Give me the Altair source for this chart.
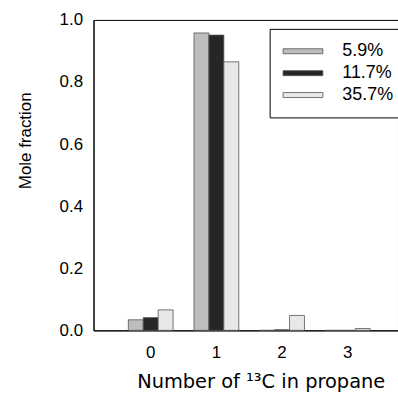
import altair as alt
import pandas as pd

categories = ["0", "1", "2", "3"]
series = ["5.9%", "11.7%", "35.7%"]
v_59 = [0.034, 0.958, 0.0, 0.0]
v_117 = [0.041, 0.951, 0.002, 0.0]
v_357 = [0.066, 0.865, 0.048, 0.006]
colors = ["#bdbdbd", "#262626", "#e8e8e8"]
y_ticks = [0.0, 0.2, 0.4, 0.6, 0.8, 1.0]

rows = []
for s, vals in zip(series, [v_59, v_117, v_357]):
    for c, v in zip(categories, vals):
        rows.append({"n": c, "series": s, "value": v})
df = pd.DataFrame(rows)

FONT = "Liberation Sans"
sym = "M-1,-0.28L3.444,-0.28L3.444,0.28L-1,0.28Z"

chart = alt.Chart(df).mark_bar(stroke="#555", strokeWidth=0.8).encode(
    x=alt.X("n:N", sort=categories, title="Number of ¹³C in propane",
            scale=alt.Scale(paddingInner=0, paddingOuter=0.318, align=0.583),
            axis=alt.Axis(labelAngle=0, ticks=False, labelFontSize=17, labelPadding=14,
                          titleFont="DejaVu Sans", titleFontSize=19.5,
                          titleX=168, titleY=57, titleBaseline="alphabetic",
                          titleAlign="center", domainColor="#000")),
    xOffset=alt.XOffset("series:N", sort=series,
                        scale=alt.Scale(paddingOuter=0.7, paddingInner=0)),
    y=alt.Y("value:Q", title="Mole fraction", scale=alt.Scale(domain=[0, 1]),
            axis=alt.Axis(values=y_ticks, format=".1f", ticks=False, grid=False,
                          labelFontSize=17, labelPadding=11, titleFontSize=17,
                          titleX=-68, titleY=121, titleBaseline="middle", titleAlign="center",
                          domainColor="#000")),
    color=alt.Color("series:N", sort=series,
                    scale=alt.Scale(domain=series, range=colors),
                    legend=alt.Legend(title=None, orient="none", legendX=177, legendY=9,
                                      padding=13, strokeColor="#000", fillColor="#fff",
                                      symbolType=sym, symbolSize=324,
                                      symbolStrokeColor="#555", symbolStrokeWidth=0.8,
                                      labelFontSize=18, labelOffset=41, rowPadding=3,
                                      labelFont=FONT, labelColor="#000")),
).properties(
    width=306, height=312,
    autosize=alt.AutoSizeParams(type="none"),
    padding={"left": 94, "top": 19, "right": 0, "bottom": 71},
).configure_view(
    stroke="#000", strokeWidth=1
).configure_axis(
    labelFont=FONT, titleFont=FONT, labelColor="#000", titleColor="#000",
    titleFontWeight="normal"
)

chart.save("out.html", embed_options={"renderer": "svg", "actions": False})
